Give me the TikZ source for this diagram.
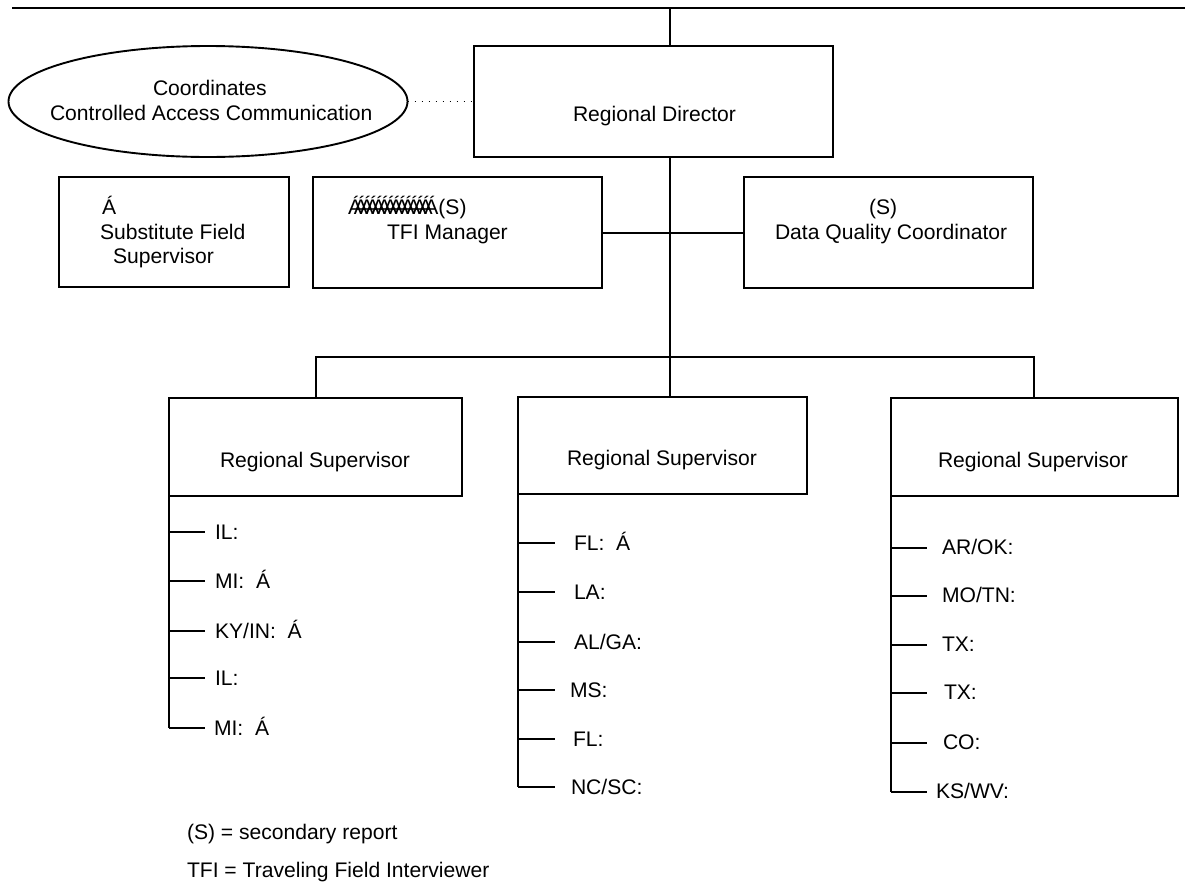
\documentclass[tikz,border=0pt]{standalone}
\usepackage{fontspec}
\setmainfont{Liberation Sans}
\usetikzlibrary{shapes.geometric}
\begin{document}
\begin{tikzpicture}[x=1pt,y=-1pt,
  every node/.style={inner sep=0pt,outer sep=0pt},
  box/.style={draw,line width=2pt,rectangle},
  oval/.style={draw,line width=1.9pt,ellipse},
  lbl/.style={font=\fontsize{21.1}{25}\selectfont,anchor=base west},
  link/.style={line width=2pt},
  dotlink/.style={line width=1.5pt,dash pattern=on 1.5pt off 5.5pt}
]
\useasboundingbox (0,0) rectangle (1185,884);

% top rule and main spine
\coordinate (topL) at (12,8);
\coordinate (topR) at (1185,8);
\coordinate (spine) at (670,8);
\draw[link] (topL) -- (topR);

% director and advisory oval
\node[box,minimum width=359,minimum height=111] (rd) at (653.5,101.5) {};
\node[lbl] (rdt) at (573,121) {Regional Director};
\node[oval,minimum width=399,minimum height=111] (ell) at (208,101.5) {};
\node[lbl] (ell1) at (153,95) {Coordinates};
\node[lbl] (ell2) at (50,120) {Controlled Access Communication};
\draw[dotlink] (ell.east) -- (rd.west);
\draw[link] (spine) -- (spine |- rd.north);

% staff row
\node[box,minimum width=230,minimum height=110] (sfs) at (174,232) {};
\node[lbl] (sfs1) at (102,214) {Á};
\node[lbl] (sfs2) at (100,239) {Substitute Field};
\node[lbl] (sfs3) at (113,263) {Supervisor};

\node[box,minimum width=289,minimum height=111] (tfi) at (457.5,232.5) {};
\node[lbl] (tfi1) at (348,214) {Á\kern-8.2ptÁ\kern-8.2ptÁ\kern-8.2ptÁ\kern-8.2ptÁ\kern-8.2ptÁ\kern-8.2ptÁ\kern-8.2ptÁ\kern-8.2ptÁ\kern-8.2ptÁ\kern-8.2ptÁ\kern-8.2ptÁ\kern-8.2ptÁ\kern-8.2ptÁ(S)};
\node[lbl] (tfi2) at (387,239) {TFI Manager};

\node[box,minimum width=289,minimum height=111] (dqc) at (888.5,232.5) {};
\node[lbl] (dqc1) at (869,214) {(S)};
\node[lbl] (dqc2) at (775,239) {Data Quality Coordinator};
\draw[link] (tfi.east) -- (dqc.west);

% regional supervisors
\node[box,minimum width=293,minimum height=98] (rsL) at (315.5,447) {};
\node[box,minimum width=289,minimum height=97] (rsM) at (662.5,445.5) {};
\node[box,minimum width=287,minimum height=98] (rsR) at (1034.5,447) {};
\node[lbl] (rsLt) at (220,467) {Regional Supervisor};
\node[lbl] (rsMt) at (567,465) {Regional Supervisor};
\node[lbl] (rsRt) at (938,467) {Regional Supervisor};

\draw[link] (spine |- rd.south) -- (spine |- rsM.north);
\coordinate (busL) at (316,357);
\coordinate (busR) at (1034,357);
\draw[link] (busL |- rsL.north) -- (busL) -- (busR) -- (busR |- rsR.north);

% state lists under each supervisor
\foreach \y/\dx/\t [count=\i] in {532/215/{IL:},581/215/{MI:\ \ Á},631/215/{KY/IN:\ \ Á},678/215/{IL:},728/214/{MI:\ \ Á}}{
  \coordinate (tl\i) at (169,\y);
  \draw[link] (tl\i) -- ++(36,0);
  \node[lbl] (nl\i) at (\dx,\y+7.5) {\t};
}
\draw[link] (rsL.south west) -- (tl5);

\foreach \y/\dx/\t [count=\i] in {543/574/{FL:\ \ Á},592/574/{LA:},642/574/{AL/GA:},690/570/{MS:},739/573/{FL:},787/571/{NC/SC:}}{
  \coordinate (tm\i) at (518,\y);
  \draw[link] (tm\i) -- ++(37,0);
  \node[lbl] (nm\i) at (\dx,\y+7.5) {\t};
}
\draw[link] (rsM.south west) -- (tm6);

\foreach \y/\dx/\t [count=\i] in {548/942/{AR/OK:},596/942/{MO/TN:},645/942/{TX:},693/944/{TX:},743/943/{CO:},792/936/{KS/WV:}}{
  \coordinate (tr\i) at (891,\y);
  \draw[link] (tr\i) -- ++(36,0);
  \node[lbl] (nr\i) at (\dx,\y+6) {\t};
}
\draw[link] (rsR.south west) -- (tr6);

% legend
\node[lbl] (key1) at (187,839) {(S) = secondary report};
\node[lbl] (key2) at (187,877) {TFI = Traveling Field Interviewer};
\end{tikzpicture}
\end{document}
